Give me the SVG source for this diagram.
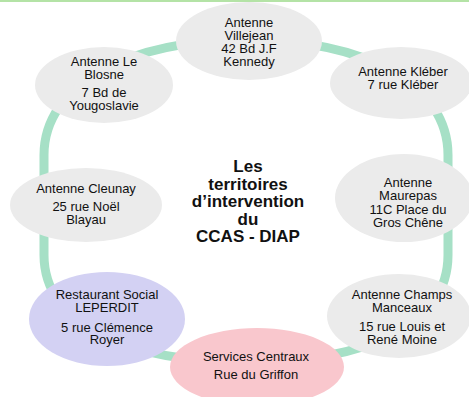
<svg xmlns="http://www.w3.org/2000/svg" width="469" height="397" viewBox="0 0 469 397">
<style>
.n{fill:#ebebeb}
.p{fill:#d3d1f3}
.s{fill:#f9c7cd}
text{font-family:"Liberation Sans",Arial,sans-serif;font-size:13px;fill:#111;text-anchor:middle}
.t{font-size:17px;font-weight:bold}
.ring{fill:none;stroke:#a6e0c6;stroke-width:9}
</style>
<rect x="0" y="0" width="469" height="397" fill="#ffffff"/>
<rect x="0" y="0" width="469" height="2" fill="#b4e3a6"/>
<g id="connectors">
<path class="ring" d="M44,255 L44,155 C44,85 127,40 247,40 C367,40 448,85 448,155 L448,255 C448,325 367,362 247,362 C127,362 44,325 44,255 Z"/>
</g>
<g id="villejean"><ellipse class="n" cx="249" cy="41" rx="73" ry="39"/>
<text x="249" y="26.5">Antenne</text><text x="249" y="39.5">Villejean</text><text x="249" y="52.5">42 Bd J.F</text><text x="249" y="65.5">Kennedy</text></g>
<g id="kleber"><ellipse class="n" cx="401" cy="83" rx="71" ry="36"/>
<text x="403" y="76">Antenne Kléber</text><text x="403" y="88.5">7 rue Kléber</text></g>
<g id="leblosne"><ellipse class="n" cx="104" cy="85" rx="69" ry="38"/>
<text x="104" y="66">Antenne Le</text><text x="104" y="78.5">Blosne</text><text x="104" y="97">7 Bd de</text><text x="104" y="110">Yougoslavie</text></g>
<g id="cleunay"><ellipse class="n" cx="86" cy="205" rx="76" ry="37"/>
<text x="86" y="192.5">Antenne Cleunay</text><text x="86" y="211">25 rue Noël</text><text x="86" y="223.5">Blayau</text></g>
<g id="maurepas"><ellipse class="n" cx="404" cy="198" rx="69" ry="44"/>
<text x="408" y="186.5">Antenne</text><text x="408" y="200">Maurepas</text><text x="408" y="213.5">11C Place du</text><text x="408" y="226.5">Gros Chêne</text></g>
<g id="champs"><ellipse class="n" cx="399" cy="316" rx="72" ry="42"/>
<text x="402" y="298.5">Antenne Champs</text><text x="402" y="311.5">Manceaux</text><text x="402" y="330.5">15 rue Louis et</text><text x="402" y="343.5">René Moine</text></g>
<g id="restaurant"><ellipse class="p" cx="107" cy="319" rx="78" ry="47"/>
<text x="107" y="298.5">Restaurant Social</text><text x="107" y="312">LEPERDIT</text><text x="107" y="331.5">5 rue Clémence</text><text x="107" y="343.5">Royer</text></g>
<g id="services"><ellipse class="s" cx="257" cy="367" rx="87" ry="39"/>
<text x="256" y="360.5">Services Centraux</text><text x="256" y="379">Rue du Griffon</text></g>
<g id="title">
<text class="t" x="248" y="171.5">Les</text><text class="t" x="248" y="189.5">territoires</text><text class="t" x="248" y="207">d’intervention</text><text class="t" x="248" y="224.5">du</text><text class="t" x="248" y="242">CCAS - DIAP</text></g>
</svg>
